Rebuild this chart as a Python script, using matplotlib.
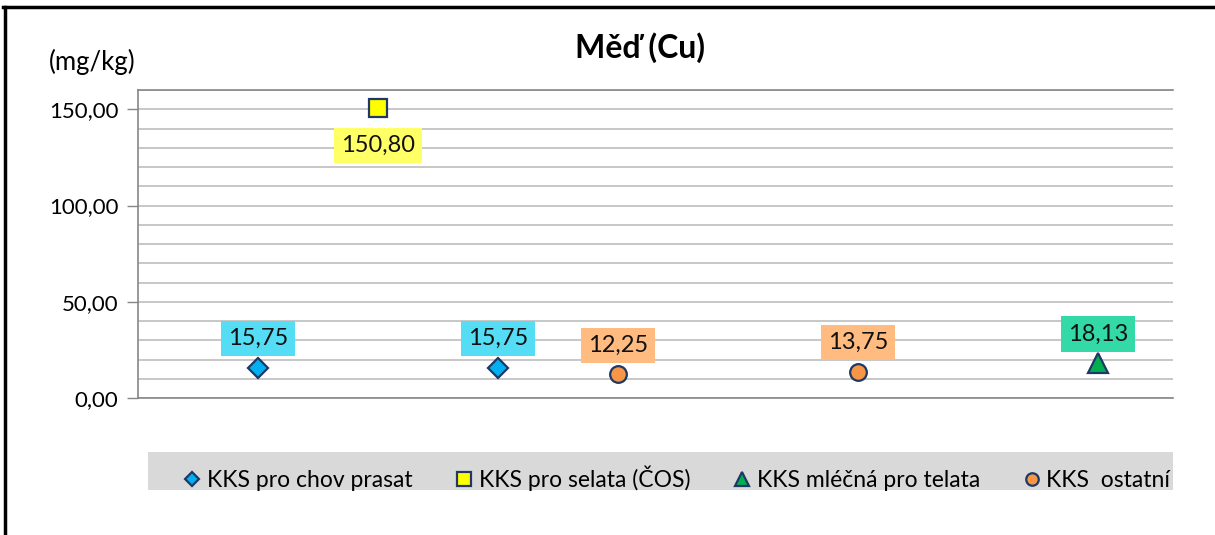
import matplotlib.pyplot as plt
from matplotlib.patches import Rectangle

plt.rcParams['font.family'] = ['Lato', 'DejaVu Sans']

# series: (label, x positions, values, marker, fill, label box colour)
series_names = ['KKS pro chov prasat', 'KKS pro selata (ČOS)',
                'KKS mléčná pro telata', 'KKS  ostatní']
x_prasat = [1, 3]
y_prasat = [15.75, 15.75]
x_selata = [2]
y_selata = [150.80]
x_telata = [8]
y_telata = [18.13]
x_ostatni = [4, 6]
y_ostatni = [12.25, 13.75]

y_ticks = [0, 50, 100, 150]

W, H = 1215, 535
fig = plt.figure(figsize=(W / 100, H / 100), dpi=100)
ax = fig.add_axes([138 / W, 1 - 398 / H, (1173 - 138) / W, (398 - 90) / H])

edge = '#1F3864'
styles = [
    (x_prasat, y_prasat, 'D', 10, '#00B0F0', '#55DDF5'),
    (x_selata, y_selata, 's', 13, '#FFFF00', '#FFFF66'),
    (x_telata, y_telata, '^', 14, '#00B050', '#33D9A6'),
    (x_ostatni, y_ostatni, 'o', 12, '#F79646', '#FFBB80'),
]

handles = []
for name, (xs, ys, mk, ms, fc, lbl_c) in zip(series_names, styles):
    h, = ax.plot(xs, ys, linestyle='none', marker=mk, markersize=ms,
                 markerfacecolor=fc, markeredgecolor=edge, markeredgewidth=1.6,
                 label=name, zorder=4)
    handles.append(h)
    for x, y in zip(xs, ys):
        off = -27 if y > 100 else 21
        ax.annotate('{:.2f}'.format(y).replace('.', ','), (x, y),
                    xytext=(0, off), textcoords='offset points',
                    ha='center', va='center', fontsize=17, color='#111111',
                    bbox=dict(boxstyle='square,pad=0.3', fc=lbl_c, ec='none'),
                    zorder=5)

ax.set_xlim(0, 8.625)
ax.set_ylim(0, 160)
ax.set_yticks(y_ticks)
ax.set_yticklabels(['{:.2f}'.format(v).replace('.', ',') for v in y_ticks], fontsize=16)
ax.set_yticks(range(0, 161, 10), minor=True)
ax.tick_params(axis='y', which='major', length=8, width=1, color='#868686', pad=6)
ax.tick_params(axis='y', which='minor', length=0)
ax.set_xticks([])
ax.grid(True, which='both', axis='y', color='#BDBDBD', linewidth=1.2)
ax.set_axisbelow(True)
for s in ['left', 'bottom', 'top']:
    ax.spines[s].set_color('#868686')
    ax.spines[s].set_linewidth(1.2)
ax.spines['right'].set_visible(False)

fig.text(640 / W, 1 - 48 / H, 'Měď (Cu)', ha='center', va='center',
         fontsize=23, fontweight='bold')
fig.text(92 / W, 1 - 62 / H, '(mg/kg)', ha='center', va='center', fontsize=18.5)

# legend band
fig.patches.append(Rectangle((148 / W, 1 - 490 / H), (1173 - 148) / W, 38 / H,
                             transform=fig.transFigure, fc='#D9D9D9', ec='none', zorder=0))
fig.legend(handles=handles, loc='center', bbox_to_anchor=(677 / W, 1 - 478 / H),
           ncol=4, frameon=False, fontsize=16.5, handlelength=0.7, handletextpad=0.3,
           columnspacing=1.9, borderpad=0, markerscale=0.75)

# outer frame
fig.add_artist(plt.Line2D([3 / W, 1], [1 - 7 / H, 1 - 7 / H], transform=fig.transFigure,
                          color='black', linewidth=2.5))
fig.add_artist(plt.Line2D([5 / W, 5 / W], [0, 1 - 7 / H], transform=fig.transFigure,
                          color='black', linewidth=2.5))

fig.savefig('out.png', dpi=100)
